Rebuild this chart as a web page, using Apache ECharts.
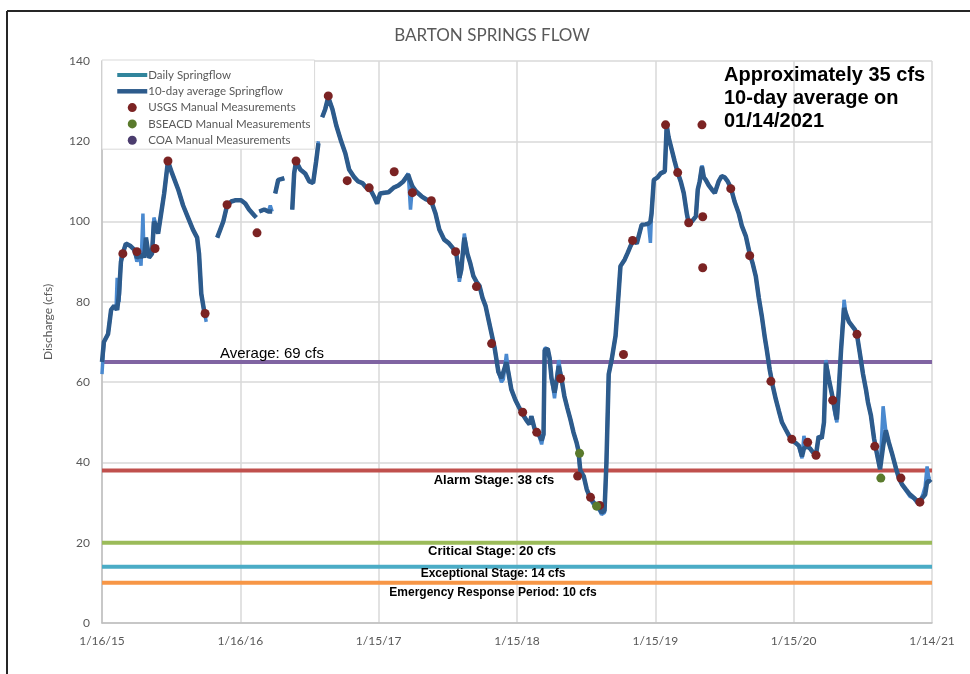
<!DOCTYPE html>
<html>
<head>
<meta charset="utf-8">
<title>Barton Springs Flow</title>
<script src="https://cdn.jsdelivr.net/npm/echarts@6.0.0/dist/echarts.min.js"></script>
<style>
  html, body { margin: 0; padding: 0; background: #fff; }
  #chart { width: 970px; height: 674px; }
</style>
</head>
<body>
<div id="chart"></div>
<script>
// x values are days since 1/16/15; null = gap in the record
const dateLabels = ['1/16/15', '1/16/16', '1/15/17', '1/15/18', '1/15/19', '1/15/20', '1/14/21'];

const flowDay = [
  0, 5, 16, 24, 32, 37, 40, 45, 50, 58, 63, 74, 85, 92, 100, 103, 108, 111, 116, 124, 132, 137, 143, 148, 156, 164, 174, 185, 201, 214, 227, 240, 251, 256, 262, 269, 275, null,
  304, 312, 320, 330, 341, 351, 367, 378, 388, 402, 407, null,
  415, 428, 439, 444, 449, null,
  457, 465, 481, null,
  502, 507, 512, 523, 536, 547, 557, 565, 571, null,
  581, 589, 597, 608, 618, 631, 642, 652, 666, 676, 687, 697, 708, 719, 726, 734, 745, 756, 769, 782, 795, 808, 814, 819, 829, 843, 856, 869, 880, 890, 903, 914, 925, 935, 943, 948, 956, 964, 972, 980, 988, 996,
  1004, 1012, 1020, 1028, 1036, 1046, 1054, 1059, 1067, 1073, 1080, 1091, 1099, 1110, 1120, 1128, 1133, 1141, 1152, 1160, 1165, 1168, 1176, 1181, 1186, 1194, 1199, 1205, 1213, 1220, 1228, 1236, 1244, 1252, 1257, 1262, 1271, 1279, 1287, 1297, 1305, 1313, 1318, 1326, 1331, 1337, 1345, 1355, 1363, 1368, 1379, 1387, 1395, 1403, 1411, 1416, 1424, 1434, 1442, 1447, 1450, 1456, 1466, 1474, 1485, 1490, 1495,
  1503, 1511, 1519, 1527, 1535, 1543, 1548, 1556, 1567, 1572, 1577, 1583, 1588, 1593, 1601, 1609, 1617, 1627, 1635, 1643, 1651, 1659, 1669, 1680, 1688, 1699, 1709, 1717, 1725, 1733, 1741, 1749, 1754, 1762, 1770, 1778, 1786, 1794, 1804, 1812, 1820, 1831, 1839, 1847, 1852, 1860, 1868, 1876, 1884, 1891, 1899, 1905, 1910, 1918, 1926, 1934, 1939, 1944, 1950, 1958, 1963, 1971, 1979, 1987, 1992,
  2000, 2008, 2016, 2021, 2029, 2037, 2045, 2053, 2061, 2068, 2076, 2084, 2095, 2103, 2111, 2121, 2132, 2142, 2150, 2158, 2166, 2172, 2177, 2182, 2187
];

const dailyCfs = [
  62, 70, 72, 78, 79, 78, 86, 80, 91, 93, 94.5, 94, 93, 90, 92, 89, 102, 91, 96, 91, 92, 101, 99, 97, 102, 107, 115, 112, 108, 104, 101, 98, 96, 92, 82, 78, 75, null,
  96, 98, 100, 104, 105, 105.3, 105.3, 104.5, 103, 101.5, 101, null,
  102.5, 103, 102.5, 104, 102.5, null,
  107, 110.4, 110.8, null,
  103, 112, 115, 113, 112, 110, 109.6, 115, 120, null,
  126, 128, 131, 128, 124, 120, 117, 113, 111, 110, 109.6, 108.5, 108, 106, 104.5, 107, 107.2, 107.3, 108.4, 109, 110, 112, 103, 108.8, 107.5, 106.3, 105.5, 105, 102, 98, 95.5, 94.7, 93.5, 92, 85, 88, 97, 92, 89.5, 86.4, 85, 84,
  81, 79, 75.5, 72, 68.5, 62.5, 60, 60.7, 67, 62, 58.2, 55.5, 54, 52, 50.5, 49.5, 51.5, 48.5, 47, 44.5, 47, 68.5, 68.3, 66, 61, 56, 60, 65.5, 60.5, 56.5, 53.5, 50.7, 47.5, 45, 43, 37, 36.6, 33.3, 31, 29.5, 29, 28, 27, 27.5, 40, 62, 65.7, 71.5, 82, 88.9, 90.5, 92.2, 94, 95.5, 94.5, 94.3, 99.2, 99.3, 99.5, 94.7, 102, 110.4, 111, 112, 112.5, 124, 121,
  118, 115, 112.2, 110, 107.1, 102, 99.6, 100, 101.3, 108, 110, 114, 111, 110.4, 109, 108, 107.1, 110, 111.3, 111, 110, 108.5, 105, 102.1, 99, 96.3, 92, 89.5, 86.4, 81, 76.4, 71, 68.1, 63, 59, 55.7, 52.8, 50, 48.2, 46.8, 45.5, 44.8, 44.1, 41, 46.6, 44, 43.5, 42.5, 42, 46.5, 46, 50, 65.5, 60.7, 57, 52, 50, 58, 68, 80.5, 77, 75, 74, 73, 71.8,
  67, 62, 58, 55, 51.6, 46, 42, 38.3, 54, 48, 45, 42.4, 38.5, 36, 34.5, 33, 31.5, 31, 30, 30.2, 32, 34, 39, 36, 36
];

const avgCfs = [
  65, 70, 72, 78, 79, 78.5, 78, 82, 90, 93, 94.5, 94, 93, 91, 91.5, 91, 92, 91, 96, 91, 92, 100, 99, 97, 102, 107, 115, 112, 108, 104, 101, 98, 96, 92, 82, 78, 76, null,
  96, 98, 100, 104, 105, 105.3, 105.3, 104.5, 103, 101.5, 101, null,
  102.5, 103, 102.5, 102.8, 102.5, null,
  107, 110.4, 110.8, null,
  103, 112, 115, 113, 112, 110, 109.6, 115, 119.5, null,
  126, 128, 131, 128, 124, 120, 117, 113, 111, 110, 109.6, 108.5, 108, 106, 104.5, 107, 107.2, 107.3, 108.4, 109, 110, 111.7, 110, 108.8, 107.5, 106.3, 105.5, 105, 102, 98, 95.5, 94.7, 93.5, 92, 86, 88, 96, 92, 89.5, 86.4, 85, 84,
  81, 79, 75.5, 72, 68.5, 62.5, 61, 60.7, 65, 62, 58.2, 55.5, 54, 52, 50.5, 49.5, 51.5, 48.5, 47, 45.5, 47, 68, 68.3, 66, 61, 57.4, 60, 64, 60.5, 56.5, 53.5, 50.7, 47.5, 45, 43, 38, 36.6, 33.3, 31.5, 30, 29.5, 28.5, 27.5, 28, 40, 62, 65.7, 71.5, 82, 88.9, 90.5, 92.2, 94, 95.5, 94.5, 94.3, 99.2, 99.3, 99.5, 100, 102, 110.4, 111, 112, 112.5, 124, 121,
  118, 115, 112.2, 110, 107.1, 102, 99.6, 100, 101.3, 108, 110, 113.7, 111, 110.4, 109, 108, 107.1, 110, 111.3, 111, 110, 108.5, 105, 102.1, 99, 96.3, 92, 89.5, 86.4, 81, 76.4, 71, 68.1, 63, 59, 55.7, 52.8, 50, 48.2, 46.8, 45.5, 44.8, 44.1, 41.5, 43.5, 44, 43.5, 42.5, 42, 46.5, 46, 50, 64.8, 60.7, 57, 53, 50.7, 58, 68, 78.5, 77, 75, 74, 73, 71.8,
  67, 62, 58, 55, 51.6, 46, 42, 38.3, 44, 48, 45, 42.4, 38.5, 36, 34.5, 33.3, 32, 31.2, 30.5, 30.5, 31.3, 32, 35, 35.5, 35
];

const usgsDay = [55, 92, 140, 174, 272, 330, 409, 512, 597, 647, 705, 771, 819, 869, 933, 988, 1028, 1110, 1147, 1210, 1255, 1289, 1313, 1376, 1400, 1487, 1519, 1548, 1583, 1585, 1585, 1659, 1709, 1765, 1820, 1862, 1884, 1928, 1992, 2039, 2108, 2158];
const usgsCfs = [92.0, 92.5, 93.3, 115.1, 77.1, 104.2, 97.2, 115.1, 131.3, 110.2, 108.4, 112.4, 107.2, 105.2, 92.5, 83.8, 69.6, 52.5, 47.5, 60.9, 36.6, 31.3, 29.3, 66.9, 95.3, 124.1, 112.2, 99.7, 124.1, 101.2, 88.5, 108.2, 91.5, 60.2, 45.8, 45.0, 41.8, 55.5, 71.9, 44.0, 36.1, 30.1];

const bseacdDay = [1260, 1305, 2055];
const bseacdCfs = [42.3, 29.1, 36.1];

const coaDay = [];
const coaCfs = [];

const stageNames = ['Average', 'Alarm', 'Critical', 'Exceptional', 'Emergency'];
const stageCfs = [65, 38, 20, 14, 10];
const stageColors = ['#8064a2', '#c0504d', '#9bbb59', '#4bacc6', '#f79646'];

const xMax = 2190;

function pairs(xs, ys) {
  return xs.map((x, i) => (x === null || ys[i] === null) ? [null, null] : [x, ys[i]]);
}

const stageSeries = stageCfs.map((v, i) => ({
  name: stageNames[i],
  type: 'line',
  data: [[0, v], [xMax, v]],
  symbol: 'none',
  silent: true,
  z: 1,
  lineStyle: { color: stageColors[i], width: 4 }
}));

const chart = echarts.init(document.getElementById('chart'));

const option = {
  backgroundColor: '#fff',
  animation: false,
  grid: { left: 102, right: 38, top: 61, bottom: 51 },
  legend: {
    orient: 'vertical',
    left: 102,
    top: 60,
    padding: [7, 4, 1, 13],
    backgroundColor: '#fff',
    borderColor: '#d9d9d9',
    borderWidth: 1,
    itemWidth: 30,
    itemHeight: 9,
    itemGap: 0.3,
    selectedMode: false,
    textStyle: { fontFamily: 'Lato', fontSize: 11.5, color: '#595959', lineHeight: 16, padding: [0, 0, 0, -4] },
    data: [
      { name: 'Daily Springflow', lineStyle: { color: '#31859c', width: 4 }, itemStyle: { opacity: 0 } },
      { name: '10-day average Springflow', lineStyle: { color: '#2d5b8c', width: 4.5 }, itemStyle: { opacity: 0 } },
      { name: 'USGS Manual Measurements' },
      { name: 'BSEACD Manual Measurements' },
      { name: 'COA Manual Measurements' }
    ]
  },
  xAxis: {
    type: 'value',
    min: 0,
    max: xMax,
    interval: 365,
    axisLine: { show: true, lineStyle: { color: '#bfbfbf', width: 1.5 } },
    axisTick: { show: false },
    splitLine: { show: true, lineStyle: { color: '#d9d9d9', width: 1.5 } },
    axisLabel: {
      margin: 12,
      fontFamily: 'Lato',
      fontSize: 12,
      color: '#595959',
      formatter: v => dateLabels[Math.round(v / 365)]
    }
  },
  yAxis: {
    type: 'value',
    min: 0,
    max: 140,
    interval: 20,
    axisLine: { show: true, lineStyle: { color: '#bfbfbf', width: 1.5 } },
    axisTick: { show: false },
    splitLine: { show: true, lineStyle: { color: '#d9d9d9', width: 1.5 } },
    axisLabel: { margin: 12, fontFamily: 'Lato', fontSize: 12, color: '#595959' }
  },
  series: stageSeries.concat([
    {
      name: 'Daily Springflow',
      type: 'line',
      data: pairs(flowDay, dailyCfs),
      symbol: 'none',
      connectNulls: false,
      z: 2,
      lineStyle: { color: '#4a89cf', width: 3.5 },
      itemStyle: { color: '#4a89cf' }
    },
    {
      name: '10-day average Springflow',
      type: 'line',
      data: pairs(flowDay, avgCfs),
      symbol: 'none',
      connectNulls: false,
      z: 3,
      lineStyle: { color: '#2d5b8c', width: 4.5 },
      itemStyle: { color: '#2d5b8c' }
    },
    {
      name: 'USGS Manual Measurements',
      type: 'scatter',
      data: pairs(usgsDay, usgsCfs),
      symbol: 'circle',
      symbolSize: 9,
      z: 4,
      itemStyle: { color: '#7b2323', opacity: 1 }
    },
    {
      name: 'BSEACD Manual Measurements',
      type: 'scatter',
      data: pairs(bseacdDay, bseacdCfs),
      symbol: 'circle',
      symbolSize: 9,
      z: 5,
      itemStyle: { color: '#5a7a2c', opacity: 1 }
    },
    {
      name: 'COA Manual Measurements',
      type: 'scatter',
      data: pairs(coaDay, coaCfs),
      symbol: 'circle',
      symbolSize: 9,
      itemStyle: { color: '#4b3d6e', opacity: 1 }
    }
  ]),
  graphic: [
    // outer frame
    { type: 'line', shape: { x1: 7, y1: 11, x2: 970, y2: 11 }, style: { stroke: '#262626', lineWidth: 2 } },
    { type: 'line', shape: { x1: 7, y1: 11, x2: 7, y2: 674 }, style: { stroke: '#262626', lineWidth: 2 } },
    {
      type: 'text', x: 492, y: 36,
      style: { text: 'BARTON SPRINGS FLOW', fontFamily: 'Lato', fontSize: 17, fill: '#595959', align: 'center', verticalAlign: 'middle' }
    },
    {
      type: 'text', x: 48, y: 322, rotation: Math.PI / 2,
      style: { text: 'Discharge (cfs)', fontFamily: 'Lato', fontSize: 12, fill: '#595959', align: 'center', verticalAlign: 'middle' }
    },
    {
      type: 'text', x: 724, y: 64, z: 10,
      style: {
        text: 'Approximately 35 cfs\n10-day average on\n01/14/2021',
        fontFamily: 'Liberation Sans', fontWeight: 'bold', fontSize: 20, lineHeight: 23,
        fill: '#000', align: 'left', verticalAlign: 'top'
      }
    },
    {
      type: 'text', x: 272, y: 354, z: 10,
      style: { text: 'Average: 69 cfs', fontFamily: 'Liberation Sans', fontSize: 15, fill: '#000', align: 'center', verticalAlign: 'middle' }
    },
    {
      type: 'text', x: 494, y: 480, z: 10,
      style: { text: 'Alarm Stage: 38 cfs', fontFamily: 'Liberation Sans', fontWeight: 'bold', fontSize: 13, fill: '#000', align: 'center', verticalAlign: 'middle' }
    },
    {
      type: 'text', x: 492, y: 551, z: 10,
      style: { text: 'Critical Stage: 20 cfs', fontFamily: 'Liberation Sans', fontWeight: 'bold', fontSize: 13, fill: '#000', align: 'center', verticalAlign: 'middle' }
    },
    {
      type: 'text', x: 493, y: 574, z: 10,
      style: { text: 'Exceptional Stage: 14 cfs', fontFamily: 'Liberation Sans', fontWeight: 'bold', fontSize: 12, fill: '#000', align: 'center', verticalAlign: 'middle' }
    },
    {
      type: 'text', x: 493, y: 593, z: 10,
      style: { text: 'Emergency Response Period: 10 cfs', fontFamily: 'Liberation Sans', fontWeight: 'bold', fontSize: 12, fill: '#000', align: 'center', verticalAlign: 'middle' }
    }
  ]
};

chart.setOption(option);
</script>
</body>
</html>
